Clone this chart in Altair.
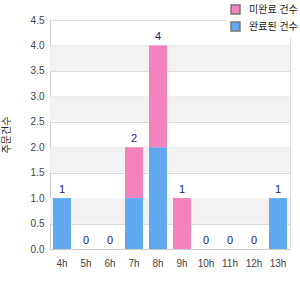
import altair as alt
import pandas as pd

hours = ["4h", "5h", "6h", "7h", "8h", "9h", "10h", "11h", "12h", "13h"]
blue_vals = [1, 0, 0, 1, 2, 0, 0, 0, 0, 1]
pink_vals = [0, 0, 0, 1, 2, 1, 0, 0, 0, 0]
series_pink = "미완료 건수"
series_blue = "완료된 건수"
y_title = "주문건수"
band_starts = [0.5, 1.5, 2.5, 3.5]
y_ticks = [0, 0.5, 1, 1.5, 2, 2.5, 3, 3.5, 4, 4.5]

FONT = "Liberation Sans, Noto Sans CJK KR"

rows = []
for h, b, p in zip(hours, blue_vals, pink_vals):
    rows.append({"hour": h, "series": series_blue, "value": b, "ord": 0})
    rows.append({"hour": h, "series": series_pink, "value": p, "ord": 1})
df = pd.DataFrame(rows)
totals = pd.DataFrame({"hour": hours, "total": [b + p for b, p in zip(blue_vals, pink_vals)]})
bands = pd.DataFrame({"y0": band_starts, "y1": [s + 0.5 for s in band_starts]})

yscale = alt.Scale(domain=[0, 4.5], nice=False)
yaxis = alt.Axis(title=y_title, values=y_ticks, format=".1f",
                 ticks=False, labelColor="#444", labelFontSize=10, labelFont=FONT,
                 labelPadding=6, labelOverlap=False,
                 gridColor="#dcdcdc", domainColor="#ccc",
                 titleFont=FONT, titleFontSize=10, titleFontWeight="normal",
                 titleColor="#222", titleX=-44, titleBaseline="middle")
xenc = alt.X("hour:N", sort=hours, scale=alt.Scale(paddingInner=0.25, paddingOuter=0.125),
             axis=alt.Axis(title=None, labelAngle=0, ticks=False, labelPadding=9,
                           labelColor="#444", labelFontSize=10, labelFont=FONT,
                           domainColor="#ccc", grid=False))

band_layer = alt.Chart(bands).mark_rect(color="#f2f2f2").encode(
    y=alt.Y("y0:Q", scale=yscale, axis=yaxis),
    y2="y1:Q",
    x=alt.value(0), x2=alt.value(240),
)

bars = alt.Chart(df).mark_bar().encode(
    x=xenc,
    y=alt.Y("value:Q", stack="zero", scale=yscale, axis=yaxis),
    color=alt.Color("series:N", scale=alt.Scale(domain=[series_pink, series_blue],
                                               range=["#f283bd", "#60a8f0"]),
                    legend=alt.Legend(title=None, orient="none", legendX=176, legendY=-20,
                                      padding=4, fillColor="white",
                                      symbolType="square", symbolSize=80,
                                      symbolStrokeColor="#777", symbolStrokeWidth=1.5,
                                      labelFont=FONT, labelFontSize=10, labelColor="#222",
                                      labelOffset=8, rowPadding=2)),
    order=alt.Order("ord:Q", sort="ascending"),
)

labels = alt.Chart(totals).mark_text(baseline="bottom", dy=-3, fontSize=11, color="#1a1a7a",
                                      font=FONT).encode(
    x=alt.X("hour:N", sort=hours),
    y=alt.Y("total:Q", scale=yscale, axis=yaxis),
    text="total:Q",
)

chart = alt.layer(band_layer, bars, labels).properties(
    width=240, height=229,
    autosize=alt.AutoSizeParams(type="none"),
    padding={"left": 50, "top": 20, "right": 10, "bottom": 51},
).configure_view(stroke="#dcdcdc").configure(background="white")

chart.save("out.html", embed_options={"renderer": "svg", "actions": False})
